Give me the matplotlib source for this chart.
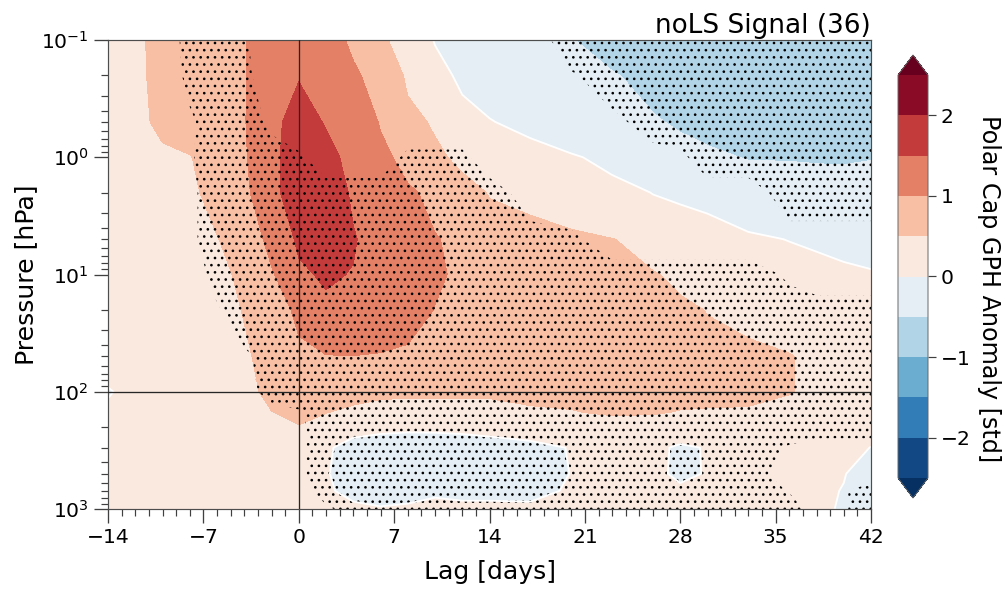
import numpy as np
import matplotlib
matplotlib.use("Agg")
import matplotlib.pyplot as plt
from matplotlib.ticker import MultipleLocator, LogLocator, NullFormatter

# ---------------- data ----------------
lags = [-14, -12, -10, -8, -6, -4, -2, 0, 2, 4, 6, 8, 10, 12, 14, 17, 20, 23,
        26, 28, 30, 33, 36, 38, 40, 42]
pressure = [0.1, 0.2, 0.5, 1, 2, 5, 10, 20, 50, 100, 150, 200, 300, 500, 700, 1000]

# polar cap GPH anomaly [std], one list per pressure level, values along lags
anom_p0_1 = [0.3, 0.45, 0.58, 0.72, 0.86, 0.98, 1.2, 1.4, 1.2, 0.92, 0.58, 0.3, -0.02,
             -0.12, -0.22, -0.36, -0.49, -0.6, -0.7, -0.75, -0.8, -0.85, -0.88, -0.9, -0.9, -0.9]
anom_p0_2 = [0.3, 0.45, 0.57, 0.7, 0.84, 0.98, 1.25, 1.47, 1.3, 1.08, 0.8, 0.44, 0.16,
             -0.09, -0.15, -0.26, -0.37, -0.48, -0.58, -0.65, -0.7, -0.77, -0.82, -0.84, -0.85, -0.85]
anom_p0_5 = [0.3, 0.44, 0.55, 0.68, 0.83, 0.98, 1.3, 1.8, 1.45, 1.2, 0.98, 0.62, 0.45,
             0.2, 0.02, -0.12, -0.24, -0.36, -0.47, -0.54, -0.6, -0.67, -0.72, -0.74, -0.75, -0.75]
anom_p1 = [0.28, 0.33, 0.45, 0.48, 0.7, 0.96, 1.3, 1.92, 1.75, 1.25, 1.08, 0.9, 0.6,
           0.38, 0.33, 0.2, 0.04, -0.1, -0.22, -0.36, -0.43, -0.52, -0.52, -0.53, -0.53, -0.51]
anom_p2 = [0.25, 0.29, 0.34, 0.43, 0.62, 0.92, 1.28, 1.95, 1.85, 1.42, 1.22, 1.05, 0.92,
           0.72, 0.47, 0.38, 0.26, 0.14, -0.01, -0.07, -0.13, -0.21, -0.28, -0.31, -0.34, -0.36]
anom_p5 = [0.22, 0.25, 0.29, 0.35, 0.48, 0.75, 1.11, 1.58, 1.9, 1.55, 1.21, 1.1, 1.02,
           0.92, 0.82, 0.7, 0.6, 0.51, 0.38, 0.33, 0.25, 0.06, -0.01, -0.05, -0.09, -0.12]
anom_p10 = [0.2, 0.22, 0.25, 0.3, 0.4, 0.58, 0.95, 1.4, 1.58, 1.47, 1.3, 1.18, 1.04,
            0.95, 0.87, 0.77, 0.7, 0.62, 0.52, 0.44, 0.4, 0.3, 0.2, 0.13, 0.07, 0.03]
anom_p20 = [0.18, 0.2, 0.23, 0.27, 0.35, 0.52, 0.8, 1.08, 1.35, 1.38, 1.3, 1.18, 0.99,
            0.92, 0.85, 0.77, 0.72, 0.66, 0.6, 0.56, 0.49, 0.42, 0.33, 0.28, 0.25, 0.22]
anom_p50 = [0.15, 0.17, 0.19, 0.22, 0.28, 0.42, 0.7, 0.9, 0.98, 0.99, 0.96, 0.9, 0.85,
            0.8, 0.76, 0.72, 0.7, 0.68, 0.66, 0.64, 0.62, 0.58, 0.52, 0.42, 0.38, 0.33]
anom_p100 = [-0.03, 0.12, 0.14, 0.16, 0.2, 0.38, 0.6, 0.7, 0.66, 0.62, 0.6, 0.58, 0.58,
             0.58, 0.58, 0.6, 0.6, 0.62, 0.62, 0.62, 0.62, 0.6, 0.52, 0.42, 0.36, 0.3]
anom_p150 = [0.08, 0.12, 0.14, 0.16, 0.2, 0.3, 0.49, 0.6, 0.51, 0.42, 0.3, 0.28, 0.28,
             0.28, 0.3, 0.44, 0.48, 0.55, 0.53, 0.48, 0.46, 0.45, 0.35, 0.3, 0.25, 0.2]
anom_p200 = [0.08, 0.1, 0.12, 0.14, 0.17, 0.22, 0.35, 0.48, 0.3, 0.07, 0.05, 0.04, 0.04,
             0.05, 0.07, 0.1, 0.15, 0.3, 0.3, 0.15, 0.2, 0.25, 0.2, 0.15, 0.12, 0.08]
anom_p300 = [0.1, 0.1, 0.12, 0.13, 0.15, 0.18, 0.25, 0.3, 0.03, -0.08, -0.12, -0.14, -0.13,
             -0.12, -0.1, -0.06, 0.01, 0.1, 0.06, -0.04, 0.015, 0.1, 0.12, 0.1, 0.08, -0.005]
anom_p500 = [0.1, 0.1, 0.11, 0.12, 0.14, 0.16, 0.2, 0.22, 0.02, -0.12, -0.15, -0.16, -0.14,
             -0.13, -0.12, -0.1, 0.005, 0.08, 0.06, -0.05, 0.015, 0.08, 0.08, 0.06, 0.01, -0.1]
anom_p700 = [0.1, 0.1, 0.11, 0.12, 0.13, 0.15, 0.18, 0.2, 0.03, -0.06, -0.1, -0.1, -0.03,
             -0.05, -0.05, -0.05, 0.02, 0.08, 0.08, 0.05, 0.06, 0.08, 0.07, 0.05, -0.01, -0.15]
anom_p1000 = [0.1, 0.1, 0.1, 0.11, 0.12, 0.14, 0.16, 0.18, 0.1, 0.05, 0.02, 0.05, 0.06,
              0.05, 0.05, 0.04, 0.08, 0.1, 0.1, 0.08, 0.08, 0.08, 0.07, 0.04, -0.02, -0.18]

# significance (1 = significant / stippled), one list per pressure level
sig_p0_1 = [0, 0, 0, 0.8, 1, 0.6, 0, 0, 0, 0, 0, 0, 0, 0, 0, 0, 1, 1, 1, 1, 1, 1, 1, 1, 1, 1]
sig_p0_2 = [0, 0, 0, 0.7, 1, 0.7, 0, 0, 0, 0, 0, 0, 0, 0, 0, 0, 0.4, 1, 1, 1, 1, 1, 1, 1, 1, 1]
sig_p0_5 = [0, 0, 0, 0.35, 1, 1, 0.3, 0, 0, 0, 0, 0, 0, 0, 0, 0, 0, 0.2, 1, 1, 1, 1, 1, 1, 1, 1]
sig_p1 = [0, 0, 0, 0.4, 1, 1, 1, 0.65, 0, 0, 0, 0.7, 0.7, 0.7, 0, 0, 0, 0, 0, 0.3, 1, 1, 1, 1, 1, 1]
sig_p2 = [0, 0, 0, 0.3, 1, 1, 1, 1, 1, 1, 1, 1, 1, 1, 1, 0, 0, 0, 0, 0, 0, 0, 1, 1, 1, 1]
sig_p5 = [0, 0, 0, 0.3, 1, 1, 1, 1, 1, 1, 1, 1, 1, 1, 1, 1, 0.7, 0, 0, 0, 0, 0, 0, 0, 0, 0]
sig_p10 = [0, 0, 0, 0, 0.8, 1, 1, 1, 1, 1, 1, 1, 1, 1, 1, 1, 1, 1, 1, 1, 1, 1, 0.35, 0, 0, 0]
sig_p20 = [0, 0, 0, 0, 0.4, 1, 1, 1, 1, 1, 1, 1, 1, 1, 1, 1, 1, 1, 1, 1, 1, 1, 1, 1, 1, 1]
sig_p50 = [0, 0, 0, 0, 0, 0.3, 1, 1, 1, 1, 1, 1, 1, 1, 1, 1, 1, 1, 1, 1, 1, 1, 1, 1, 1, 1]
sig_p100 = [0, 0, 0, 0, 0, 0, 1, 1, 1, 1, 1, 1, 1, 1, 1, 1, 1, 1, 1, 1, 1, 1, 1, 1, 1, 1]
sig_p150 = [0, 0, 0, 0, 0, 0, 0, 0.4, 1, 1, 1, 1, 1, 1, 1, 1, 1, 1, 1, 1, 1, 1, 1, 1, 1, 1]
sig_p200 = [0, 0, 0, 0, 0, 0, 0, 0.3, 1, 1, 1, 1, 1, 1, 1, 1, 1, 1, 1, 1, 1, 1, 1, 1, 1, 1]
sig_p300 = [0, 0, 0, 0, 0, 0, 0, 0.3, 1, 1, 1, 1, 1, 1, 1, 1, 1, 1, 1, 1, 1, 1, 0.4, 0, 0, 0]
sig_p500 = [0, 0, 0, 0, 0, 0, 0, 0.3, 1, 1, 1, 1, 1, 1, 1, 1, 1, 1, 1, 1, 1, 1, 0, 0, 0, 0]
sig_p700 = [0, 0, 0, 0, 0, 0, 0, 0, 1, 1, 1, 1, 1, 1, 1, 1, 1, 1, 1, 1, 1, 1, 0.45, 0, 0.4, 1]
sig_p1000 = [0, 0, 0, 0, 0, 0, 0, 0, 0.3, 1, 1, 1, 1, 1, 1, 1, 1, 1, 1, 1, 1, 1, 1, 0, 0.4, 1]

levels = [-2.5, -2.0, -1.5, -1.0, -0.5, 0.0, 0.5, 1.0, 1.5, 2.0, 2.5]
cbar_ticks = [-2, -1, 0, 1, 2]
xticks = [-14, -7, 0, 7, 14, 21, 28, 35, 42]

title = "noLS Signal (36)"
xlabel = "Lag [days]"
ylabel = "Pressure [hPa]"
cbar_label = "Polar Cap GPH Anomaly [std]"

anom = np.array([anom_p0_1, anom_p0_2, anom_p0_5, anom_p1, anom_p2, anom_p5, anom_p10,
                 anom_p20, anom_p50, anom_p100, anom_p150, anom_p200, anom_p300,
                 anom_p500, anom_p700, anom_p1000])
sig = np.array([sig_p0_1, sig_p0_2, sig_p0_5, sig_p1, sig_p2, sig_p5, sig_p10, sig_p20,
                sig_p50, sig_p100, sig_p150, sig_p200, sig_p300, sig_p500, sig_p700,
                sig_p1000])

# ---------------- figure ----------------
DPI = 86
fig = plt.figure(figsize=(1005 / DPI, 590 / DPI), dpi=DPI)
ax = fig.add_axes([108 / 1005, 1 - 509 / 590, 763 / 1005, 469 / 590])

X, P = np.meshgrid(lags, pressure)
cf = ax.contourf(X, P, anom, levels=levels, cmap="RdBu_r", extend="both")
ax.contour(X, P, anom, levels=[0.0], colors="white", linewidths=1.6)
plt.rcParams["hatch.color"] = "black"
ax.contourf(X, P, sig, levels=[0.5, 1.5], colors="none", hatches=[".."])

ax.axvline(0, color="0.15", lw=1.1, zorder=5)
ax.axhline(100, color="0.15", lw=1.1, zorder=5)

ax.set_yscale("log")
ax.set_ylim(1000, 0.1)
ax.set_xlim(-14, 42)
ax.set_xticks(xticks)
ax.xaxis.set_minor_locator(MultipleLocator(1))
ax.yaxis.set_major_locator(LogLocator(base=10, numticks=10))
ax.yaxis.set_minor_locator(LogLocator(base=10, subs=np.arange(2, 10), numticks=20))
ax.yaxis.set_minor_formatter(NullFormatter())

tick_fs = 17
ax.tick_params(which="major", length=12, width=1.1, labelsize=tick_fs, color="0.25", pad=4)
ax.tick_params(which="minor", length=6, width=1.0, color="0.25")
for s in ax.spines.values():
    s.set_color("0.3")
    s.set_linewidth(1.0)

ax.set_xlabel(xlabel, fontsize=21, labelpad=11)
ax.set_ylabel(ylabel, fontsize=21, labelpad=3)
ax.set_title(title, loc="right", fontsize=22, pad=6)

cax = fig.add_axes([898 / 1005, 1 - 498 / 590, 30 / 1005, 443 / 590])
cb = fig.colorbar(cf, cax=cax, ticks=cbar_ticks)
cb.outline.set_edgecolor("0.4")
cb.outline.set_linewidth(0.8)
cb.ax.tick_params(labelsize=tick_fs, length=7, width=1.0, color="0.25")
cb.set_label(cbar_label, rotation=270, fontsize=20, labelpad=26)
cb.ax.yaxis.label.set_y(0.47)

fig.savefig("out.png", dpi=DPI)
